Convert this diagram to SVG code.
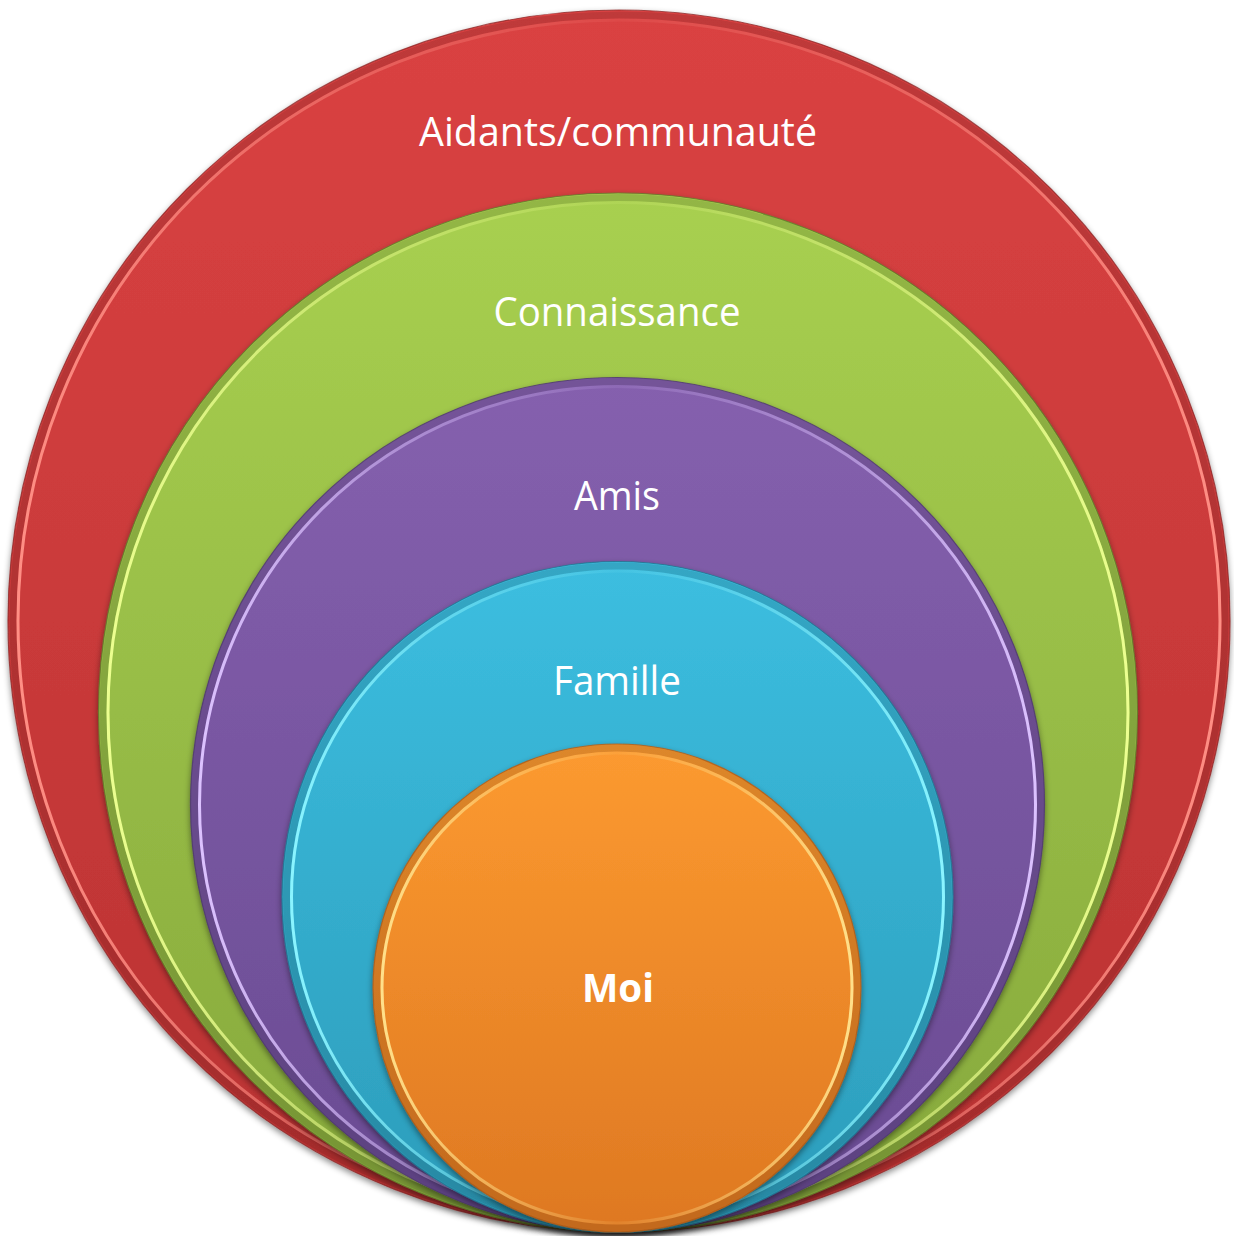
<svg xmlns="http://www.w3.org/2000/svg" width="1234" height="1236" viewBox="0 0 1234 1236">
<defs>
  <filter id="sh" x="-10%" y="-10%" width="120%" height="120%">
    <feDropShadow dx="0" dy="3" stdDeviation="3" flood-color="#000" flood-opacity="0.45"/>
  </filter>
  <linearGradient id="gRed" x1="0" y1="0" x2="0" y2="1">
    <stop offset="0" stop-color="#da4242"/><stop offset="1" stop-color="#b93232"/>
  </linearGradient>
  <linearGradient id="gGreen" x1="0" y1="0" x2="0" y2="1">
    <stop offset="0" stop-color="#a8d050"/><stop offset="1" stop-color="#86a83c"/>
  </linearGradient>
  <linearGradient id="gPurple" x1="0" y1="0" x2="0" y2="1">
    <stop offset="0" stop-color="#8560ae"/><stop offset="1" stop-color="#694b92"/>
  </linearGradient>
  <linearGradient id="gCyan" x1="0" y1="0" x2="0" y2="1">
    <stop offset="0" stop-color="#3cbee0"/><stop offset="1" stop-color="#2c9cba"/>
  </linearGradient>
  <linearGradient id="gOrange" x1="0" y1="0" x2="0" y2="1">
    <stop offset="0" stop-color="#fc9a30"/><stop offset="1" stop-color="#de7822"/>
  </linearGradient>
  <linearGradient id="rRed" x1="0" y1="0" x2="1" y2="0">
    <stop offset="0" stop-color="#ff8f85" stop-opacity="1"/><stop offset="0.2" stop-color="#ff8f85" stop-opacity="0.55"/><stop offset="0.5" stop-color="#ff8f85" stop-opacity="0.1"/><stop offset="0.8" stop-color="#ff8f85" stop-opacity="0.55"/><stop offset="1" stop-color="#ff8f85" stop-opacity="1"/>
  </linearGradient>
  <linearGradient id="rGreen" x1="0" y1="0" x2="1" y2="0">
    <stop offset="0" stop-color="#ecff90" stop-opacity="1"/><stop offset="0.2" stop-color="#ecff90" stop-opacity="0.55"/><stop offset="0.5" stop-color="#ecff90" stop-opacity="0.1"/><stop offset="0.8" stop-color="#ecff90" stop-opacity="0.55"/><stop offset="1" stop-color="#ecff90" stop-opacity="1"/>
  </linearGradient>
  <linearGradient id="rPurple" x1="0" y1="0" x2="1" y2="0">
    <stop offset="0" stop-color="#dcc2ff" stop-opacity="1"/><stop offset="0.2" stop-color="#dcc2ff" stop-opacity="0.55"/><stop offset="0.5" stop-color="#dcc2ff" stop-opacity="0.1"/><stop offset="0.8" stop-color="#dcc2ff" stop-opacity="0.55"/><stop offset="1" stop-color="#dcc2ff" stop-opacity="1"/>
  </linearGradient>
  <linearGradient id="rCyan" x1="0" y1="0" x2="1" y2="0">
    <stop offset="0" stop-color="#8af4ff" stop-opacity="1"/><stop offset="0.2" stop-color="#8af4ff" stop-opacity="0.55"/><stop offset="0.5" stop-color="#8af4ff" stop-opacity="0.1"/><stop offset="0.8" stop-color="#8af4ff" stop-opacity="0.55"/><stop offset="1" stop-color="#8af4ff" stop-opacity="1"/>
  </linearGradient>
  <linearGradient id="rOrange" x1="0" y1="0" x2="1" y2="0">
    <stop offset="0" stop-color="#ffe08a" stop-opacity="1"/><stop offset="0.2" stop-color="#ffe08a" stop-opacity="0.55"/><stop offset="0.5" stop-color="#ffe08a" stop-opacity="0.1"/><stop offset="0.8" stop-color="#ffe08a" stop-opacity="0.55"/><stop offset="1" stop-color="#ffe08a" stop-opacity="1"/>
  </linearGradient>
</defs>
<style>
  .disc { filter: url(#sh); stroke-width: 1.2; stroke-opacity: 0.8; }
  .bevel { fill: none; stroke: #000; stroke-opacity: 0.12; stroke-width: 7; }
  .rim { fill: none; stroke-width: 3; }
  .lbl { font-family: "Open Sans", "Noto Sans", "Liberation Sans", sans-serif; font-size: 40px; fill: #ffffff; text-anchor: middle; }
  .bold { font-weight: bold; }
</style>

<g id="aidants">
  <circle class="disc" cx="619" cy="621" r="611" fill="url(#gRed)" stroke="#8e2626"/>
  <circle class="bevel" cx="619" cy="621" r="606"/>
  <circle class="rim" cx="619" cy="621" r="601" stroke="url(#rRed)"/>
  <text class="lbl" x="618" y="146" textLength="398" lengthAdjust="spacingAndGlyphs">Aidants/communauté</text>
</g>

<g id="connaissance">
  <circle class="disc" cx="618" cy="712.5" r="519.5" fill="url(#gGreen)" stroke="#5f7a2a"/>
  <circle class="bevel" cx="618" cy="712.5" r="515"/>
  <circle class="rim" cx="618" cy="712.5" r="510" stroke="url(#rGreen)"/>
  <text class="lbl" x="617" y="326" textLength="247" lengthAdjust="spacingAndGlyphs">Connaissance</text>
</g>

<g id="amis">
  <circle class="disc" cx="617.5" cy="804.5" r="427" fill="url(#gPurple)" stroke="#4c3470"/>
  <circle class="bevel" cx="617.5" cy="804.5" r="423"/>
  <circle class="rim" cx="617.5" cy="804.5" r="418" stroke="url(#rPurple)"/>
  <text class="lbl" x="617" y="510" textLength="86" lengthAdjust="spacingAndGlyphs">Amis</text>
</g>

<g id="famille">
  <circle class="disc" cx="617.5" cy="897" r="335.5" fill="url(#gCyan)" stroke="#1f7590"/>
  <circle class="bevel" cx="617.5" cy="897" r="331"/>
  <circle class="rim" cx="617.5" cy="897" r="326" stroke="url(#rCyan)"/>
  <text class="lbl" x="617" y="695" textLength="128" lengthAdjust="spacingAndGlyphs">Famille</text>
</g>

<g id="moi">
  <circle class="disc" cx="617" cy="988" r="244" fill="url(#gOrange)" stroke="#b25a14"/>
  <circle class="bevel" cx="617" cy="988" r="240"/>
  <circle class="rim" cx="617" cy="988" r="235" stroke="url(#rOrange)"/>
  <text class="lbl bold" x="618" y="1002" textLength="72" lengthAdjust="spacingAndGlyphs">Moi</text>
</g>

<g id="connectors"></g>
</svg>
